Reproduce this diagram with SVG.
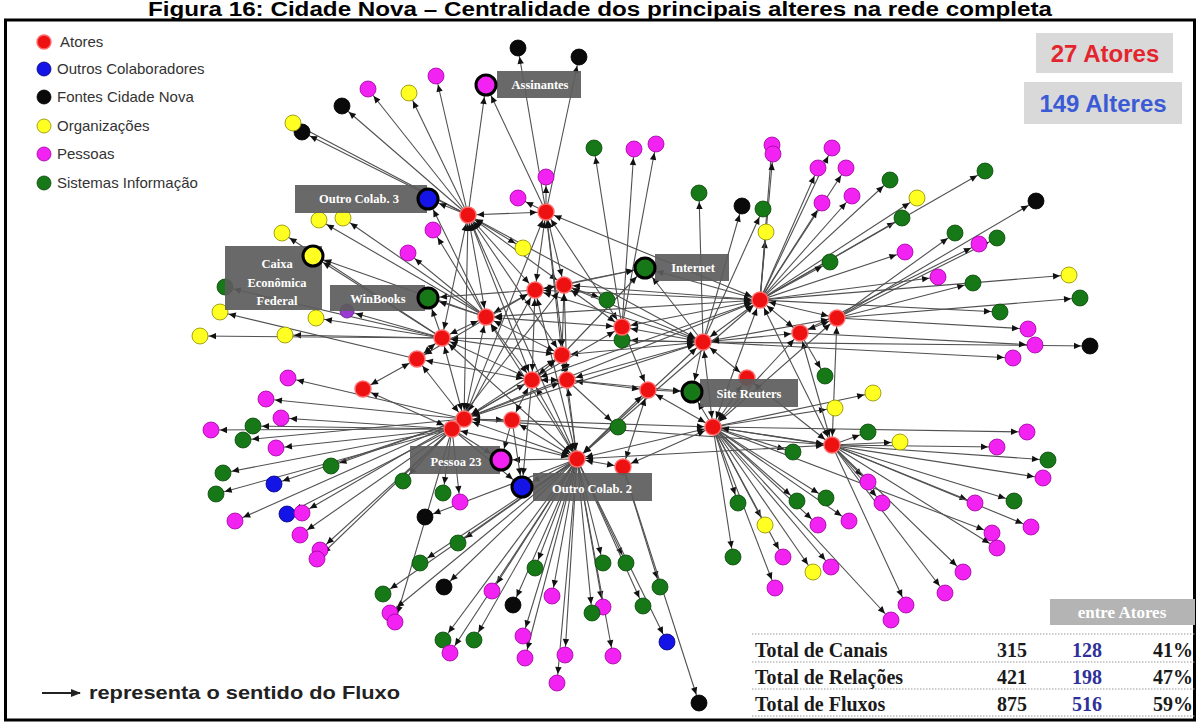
<svg xmlns="http://www.w3.org/2000/svg" width="1199" height="724" viewBox="0 0 1199 724">
<style>
.e line{stroke:#505050;stroke-width:1.1;fill:none;marker-end:url(#a)}
.e line.d{marker-start:url(#a)}
.e line.B{marker-end:url(#b)}
.R{fill:#ee1111;stroke:#ff6a6a;stroke-width:1.4}
.M{fill:#f222f2;stroke:#a000a0;stroke-width:.8}
.G{fill:#167816;stroke:#0a480a;stroke-width:.8}
.Y{fill:#ffff22;stroke:#8a8a00;stroke-width:.8}
.K{fill:#0a0a0a;stroke:#000;stroke-width:.8}
.U{fill:#1414e6;stroke:#000078;stroke-width:.8}
.P{fill:#9a3ad0;stroke:#6a1a90;stroke-width:.8}
.big{stroke:#000;stroke-width:3}
.lb{fill:#5c5c5c;fill-opacity:.92}
.lt{fill:#fff;font-family:"Liberation Serif",serif;font-weight:bold;font-size:12.5px;text-anchor:middle}
.lg{font-family:"Liberation Sans",Arial,sans-serif;font-size:15px;fill:#333}
.tb{font-family:"Liberation Serif",serif;font-weight:bold;font-size:20px;fill:#1a1a1a}
.dot{stroke:#9a9a9a;stroke-width:1.2;stroke-dasharray:1.5 1.5}
</style>
<defs>
<marker id="a" markerUnits="userSpaceOnUse" viewBox="-20 -5 20 10" refX="0" refY="0" markerWidth="20" markerHeight="10" orient="auto-start-reverse"><path d="M-9,0 L-16,-3.2 L-16,3.2 Z" fill="#111"/></marker>
<marker id="b" markerUnits="userSpaceOnUse" viewBox="-24 -5 24 10" refX="0" refY="0" markerWidth="24" markerHeight="10" orient="auto-start-reverse"><path d="M-12,0 L-19,-3.2 L-19,3.2 Z" fill="#111"/></marker>
<marker id="c" markerUnits="userSpaceOnUse" viewBox="0 -5 10 10" refX="9" refY="0" markerWidth="10" markerHeight="10" orient="auto"><path d="M0,-4 L10,0 L0,4 Z" fill="#222"/></marker>
</defs>
<rect width="1199" height="724" fill="#fff"/>
<g id="title"><text x="148" y="16" textLength="904" lengthAdjust="spacingAndGlyphs" style="font-family:'Liberation Sans',Arial,sans-serif;font-weight:bold;font-size:20px;fill:#000">Figura 16: Cidade Nova – Centralidade dos principais alteres na rede completa</text></g>
<rect id="frame" x="5.5" y="20" width="1189" height="700" fill="none" stroke="#000" stroke-width="3"/>

<g id="connectors" class="e">
<line x1="468" y1="215" x2="342" y2="106"/>
<line x1="468" y1="215" x2="302" y2="132"/>
<line x1="468" y1="215" x2="293" y2="123"/>
<line x1="468" y1="215" x2="368" y2="89"/>
<line x1="468" y1="215" x2="409" y2="93"/>
<line x1="468" y1="215" x2="436" y2="76"/>
<line x1="468" y1="215" x2="523" y2="248"/>
<line class="B" x1="468" y1="215" x2="486" y2="85"/>
<line class="B" x1="546" y1="212" x2="486" y2="85"/>
<line x1="546" y1="212" x2="518" y2="48"/>
<line x1="546" y1="212" x2="579" y2="57"/>
<line x1="546" y1="212" x2="546" y2="177"/>
<line x1="546" y1="212" x2="518" y2="198"/>
<line x1="622" y1="327" x2="594" y2="148"/>
<line x1="622" y1="327" x2="634" y2="149"/>
<line x1="622" y1="327" x2="656" y2="144"/>
<line x1="703" y1="342" x2="699" y2="193"/>
<line x1="703" y1="342" x2="742" y2="206"/>
<line x1="703" y1="342" x2="763" y2="209"/>
<line x1="703" y1="342" x2="1013" y2="358"/>
<line x1="703" y1="342" x2="1090" y2="346"/>
<line x1="703" y1="342" x2="622" y2="340"/>
<line x1="760" y1="300" x2="766" y2="232"/>
<line x1="760" y1="300" x2="772" y2="145"/>
<line x1="760" y1="300" x2="773" y2="154"/>
<line x1="760" y1="300" x2="832" y2="148"/>
<line x1="760" y1="300" x2="818" y2="168"/>
<line x1="760" y1="300" x2="846" y2="168"/>
<line x1="760" y1="300" x2="822" y2="203"/>
<line x1="760" y1="300" x2="852" y2="196"/>
<line x1="760" y1="300" x2="890" y2="180"/>
<line x1="760" y1="300" x2="917" y2="198"/>
<line x1="760" y1="300" x2="902" y2="218"/>
<line x1="760" y1="300" x2="985" y2="171"/>
<line x1="760" y1="300" x2="830" y2="262"/>
<line x1="760" y1="300" x2="905" y2="252"/>
<line x1="760" y1="300" x2="938" y2="277"/>
<line x1="760" y1="300" x2="1069" y2="275"/>
<line x1="760" y1="300" x2="1000" y2="312"/>
<line x1="837" y1="318" x2="1036" y2="201"/>
<line x1="837" y1="318" x2="955" y2="233"/>
<line x1="837" y1="318" x2="997" y2="238"/>
<line x1="837" y1="318" x2="973" y2="283"/>
<line x1="837" y1="318" x2="1080" y2="298"/>
<line x1="837" y1="318" x2="1028" y2="329"/>
<line x1="800" y1="333" x2="979" y2="244"/>
<line x1="800" y1="333" x2="1035" y2="345"/>
<line x1="800" y1="333" x2="825" y2="376"/>
<line x1="713" y1="427" x2="873" y2="393"/>
<line x1="713" y1="427" x2="835" y2="408"/>
<line x1="713" y1="427" x2="1027" y2="432"/>
<line x1="713" y1="427" x2="1043" y2="478"/>
<line x1="713" y1="427" x2="793" y2="452"/>
<line x1="713" y1="427" x2="797" y2="501"/>
<line x1="713" y1="427" x2="826" y2="498"/>
<line x1="713" y1="427" x2="992" y2="533"/>
<line x1="713" y1="427" x2="818" y2="525"/>
<line x1="713" y1="427" x2="849" y2="521"/>
<line x1="713" y1="427" x2="738" y2="503"/>
<line x1="713" y1="427" x2="765" y2="525"/>
<line x1="713" y1="427" x2="733" y2="557"/>
<line x1="713" y1="427" x2="783" y2="557"/>
<line x1="713" y1="427" x2="813" y2="572"/>
<line x1="713" y1="427" x2="831" y2="567"/>
<line x1="713" y1="427" x2="775" y2="588"/>
<line x1="713" y1="427" x2="891" y2="620"/>
<line x1="832" y1="445" x2="868" y2="432"/>
<line x1="832" y1="445" x2="900" y2="442"/>
<line x1="832" y1="445" x2="997" y2="447"/>
<line x1="832" y1="445" x2="1048" y2="460"/>
<line x1="832" y1="445" x2="868" y2="482"/>
<line x1="832" y1="445" x2="882" y2="503"/>
<line x1="832" y1="445" x2="975" y2="503"/>
<line x1="832" y1="445" x2="1014" y2="501"/>
<line x1="832" y1="445" x2="1031" y2="527"/>
<line x1="832" y1="445" x2="997" y2="548"/>
<line x1="832" y1="445" x2="963" y2="572"/>
<line x1="832" y1="445" x2="945" y2="593"/>
<line x1="832" y1="445" x2="906" y2="605"/>
<line x1="464" y1="419" x2="288" y2="378"/>
<line x1="464" y1="419" x2="266" y2="399"/>
<line x1="464" y1="419" x2="243" y2="440"/>
<line x1="464" y1="419" x2="331" y2="466"/>
<line x1="464" y1="419" x2="274" y2="484"/>
<line x1="464" y1="419" x2="235" y2="521"/>
<line x1="464" y1="419" x2="302" y2="513"/>
<line x1="464" y1="419" x2="320" y2="550"/>
<line x1="452" y1="429" x2="281" y2="418"/>
<line x1="452" y1="429" x2="253" y2="426"/>
<line x1="452" y1="429" x2="211" y2="430"/>
<line x1="452" y1="429" x2="276" y2="448"/>
<line x1="452" y1="429" x2="223" y2="473"/>
<line x1="452" y1="429" x2="216" y2="494"/>
<line x1="452" y1="429" x2="287" y2="514"/>
<line x1="452" y1="429" x2="300" y2="535"/>
<line x1="452" y1="429" x2="317" y2="559"/>
<line x1="452" y1="429" x2="403" y2="481"/>
<line x1="452" y1="429" x2="443" y2="493"/>
<line x1="452" y1="429" x2="460" y2="502"/>
<line x1="452" y1="429" x2="395" y2="622"/>
<line x1="486" y1="317" x2="319" y2="220"/>
<line x1="486" y1="317" x2="343" y2="218"/>
<line x1="486" y1="317" x2="433" y2="230"/>
<line x1="486" y1="317" x2="408" y2="253"/>
<line x1="442" y1="338" x2="282" y2="233"/>
<line x1="442" y1="338" x2="225" y2="287"/>
<line x1="442" y1="338" x2="316" y2="318"/>
<line x1="442" y1="338" x2="347" y2="311"/>
<line x1="442" y1="338" x2="285" y2="335"/>
<line x1="442" y1="338" x2="200" y2="336"/>
<line x1="417" y1="359" x2="220" y2="312"/>
<line x1="564" y1="285" x2="607" y2="300"/>
<line x1="567" y1="380" x2="618" y2="427"/>
<line x1="577" y1="459" x2="425" y2="517"/>
<line x1="577" y1="459" x2="458" y2="543"/>
<line x1="577" y1="459" x2="420" y2="563"/>
<line x1="577" y1="459" x2="383" y2="594"/>
<line x1="577" y1="459" x2="444" y2="587"/>
<line x1="577" y1="459" x2="492" y2="591"/>
<line x1="577" y1="459" x2="513" y2="605"/>
<line x1="577" y1="459" x2="390" y2="613"/>
<line x1="577" y1="459" x2="535" y2="568"/>
<line x1="577" y1="459" x2="552" y2="596"/>
<line x1="577" y1="459" x2="603" y2="563"/>
<line x1="577" y1="459" x2="626" y2="563"/>
<line x1="577" y1="459" x2="643" y2="606"/>
<line x1="577" y1="459" x2="603" y2="607"/>
<line x1="577" y1="459" x2="592" y2="613"/>
<line x1="577" y1="459" x2="667" y2="642"/>
<line x1="577" y1="459" x2="443" y2="640"/>
<line x1="577" y1="459" x2="474" y2="640"/>
<line x1="577" y1="459" x2="450" y2="653"/>
<line x1="577" y1="459" x2="523" y2="636"/>
<line x1="577" y1="459" x2="525" y2="658"/>
<line x1="577" y1="459" x2="565" y2="655"/>
<line x1="577" y1="459" x2="557" y2="683"/>
<line x1="577" y1="459" x2="613" y2="656"/>
<line x1="623" y1="467" x2="660" y2="587"/>
<line x1="623" y1="467" x2="699" y2="703"/>
<line class="B" x1="468" y1="215" x2="428" y2="199"/>
<line class="B" x1="486" y1="317" x2="428" y2="199"/>
<line class="B" x1="442" y1="338" x2="313" y2="256"/>
<line class="B" x1="486" y1="317" x2="313" y2="256"/>
<line class="B" x1="486" y1="317" x2="428" y2="298"/>
<line class="B" x1="442" y1="338" x2="428" y2="298"/>
<line class="B" x1="535" y1="290" x2="428" y2="298"/>
<line class="B" x1="535" y1="290" x2="645" y2="268"/>
<line class="B" x1="564" y1="285" x2="645" y2="268"/>
<line class="B" x1="703" y1="342" x2="645" y2="268"/>
<line class="B" x1="760" y1="300" x2="645" y2="268"/>
<line class="B" x1="562" y1="355" x2="645" y2="268"/>
<line class="B" x1="703" y1="342" x2="692" y2="392"/>
<line class="B" x1="648" y1="390" x2="692" y2="392"/>
<line class="B" x1="567" y1="380" x2="692" y2="392"/>
<line class="B" x1="713" y1="427" x2="692" y2="392"/>
<line class="B" x1="452" y1="429" x2="501" y2="460"/>
<line class="B" x1="577" y1="459" x2="501" y2="460"/>
<line class="B" x1="512" y1="420" x2="501" y2="460"/>
<line class="B" x1="577" y1="459" x2="522" y2="487"/>
<line class="B" x1="452" y1="429" x2="522" y2="487"/>
<line class="B" x1="512" y1="420" x2="522" y2="487"/>
<line class="B" x1="532" y1="380" x2="522" y2="487"/>
<line class="d" x1="468" y1="215" x2="546" y2="212"/>
<line class="d" x1="468" y1="215" x2="486" y2="317"/>
<line class="d" x1="468" y1="215" x2="535" y2="290"/>
<line class="d" x1="468" y1="215" x2="442" y2="338"/>
<line class="d" x1="468" y1="215" x2="464" y2="419"/>
<line class="d" x1="468" y1="215" x2="562" y2="355"/>
<line class="d" x1="468" y1="215" x2="532" y2="380"/>
<line class="d" x1="468" y1="215" x2="577" y2="459"/>
<line class="d" x1="468" y1="215" x2="703" y2="342"/>
<line class="d" x1="468" y1="215" x2="564" y2="285"/>
<line class="d" x1="546" y1="212" x2="535" y2="290"/>
<line class="d" x1="546" y1="212" x2="564" y2="285"/>
<line class="d" x1="546" y1="212" x2="622" y2="327"/>
<line class="d" x1="546" y1="212" x2="562" y2="355"/>
<line class="d" x1="546" y1="212" x2="760" y2="300"/>
<line class="d" x1="546" y1="212" x2="567" y2="380"/>
<line class="d" x1="546" y1="212" x2="464" y2="419"/>
<line class="d" x1="535" y1="290" x2="564" y2="285"/>
<line class="d" x1="535" y1="290" x2="486" y2="317"/>
<line class="d" x1="535" y1="290" x2="532" y2="380"/>
<line class="d" x1="535" y1="290" x2="703" y2="342"/>
<line class="d" x1="535" y1="290" x2="760" y2="300"/>
<line class="d" x1="535" y1="290" x2="464" y2="419"/>
<line class="d" x1="535" y1="290" x2="577" y2="459"/>
<line class="d" x1="564" y1="285" x2="562" y2="355"/>
<line class="d" x1="564" y1="285" x2="622" y2="327"/>
<line class="d" x1="564" y1="285" x2="703" y2="342"/>
<line class="d" x1="564" y1="285" x2="760" y2="300"/>
<line class="d" x1="564" y1="285" x2="567" y2="380"/>
<line class="d" x1="564" y1="285" x2="452" y2="429"/>
<line class="d" x1="486" y1="317" x2="442" y2="338"/>
<line class="d" x1="486" y1="317" x2="562" y2="355"/>
<line class="d" x1="486" y1="317" x2="532" y2="380"/>
<line class="d" x1="486" y1="317" x2="464" y2="419"/>
<line class="d" x1="486" y1="317" x2="760" y2="300"/>
<line class="d" x1="486" y1="317" x2="577" y2="459"/>
<line class="d" x1="486" y1="317" x2="622" y2="327"/>
<line class="d" x1="442" y1="338" x2="417" y2="359"/>
<line class="d" x1="442" y1="338" x2="464" y2="419"/>
<line class="d" x1="442" y1="338" x2="532" y2="380"/>
<line class="d" x1="442" y1="338" x2="703" y2="342"/>
<line class="d" x1="442" y1="338" x2="577" y2="459"/>
<line class="d" x1="442" y1="338" x2="562" y2="355"/>
<line class="d" x1="417" y1="359" x2="363" y2="389"/>
<line class="d" x1="417" y1="359" x2="464" y2="419"/>
<line class="d" x1="417" y1="359" x2="532" y2="380"/>
<line class="d" x1="417" y1="359" x2="535" y2="290"/>
<line class="d" x1="363" y1="389" x2="452" y2="429"/>
<line class="d" x1="562" y1="355" x2="532" y2="380"/>
<line class="d" x1="562" y1="355" x2="567" y2="380"/>
<line class="d" x1="562" y1="355" x2="703" y2="342"/>
<line class="d" x1="562" y1="355" x2="577" y2="459"/>
<line class="d" x1="562" y1="355" x2="464" y2="419"/>
<line class="d" x1="532" y1="380" x2="567" y2="380"/>
<line class="d" x1="532" y1="380" x2="512" y2="420"/>
<line class="d" x1="532" y1="380" x2="464" y2="419"/>
<line class="d" x1="532" y1="380" x2="577" y2="459"/>
<line class="d" x1="532" y1="380" x2="760" y2="300"/>
<line class="d" x1="567" y1="380" x2="577" y2="459"/>
<line class="d" x1="567" y1="380" x2="703" y2="342"/>
<line class="d" x1="567" y1="380" x2="648" y2="390"/>
<line class="d" x1="567" y1="380" x2="464" y2="419"/>
<line class="d" x1="622" y1="327" x2="703" y2="342"/>
<line class="d" x1="622" y1="327" x2="648" y2="390"/>
<line class="d" x1="622" y1="327" x2="760" y2="300"/>
<line class="d" x1="622" y1="327" x2="464" y2="419"/>
<line class="d" x1="703" y1="342" x2="760" y2="300"/>
<line class="d" x1="703" y1="342" x2="800" y2="333"/>
<line class="d" x1="703" y1="342" x2="837" y2="318"/>
<line class="d" x1="703" y1="342" x2="713" y2="427"/>
<line class="d" x1="703" y1="342" x2="577" y2="459"/>
<line class="d" x1="703" y1="342" x2="464" y2="419"/>
<line class="d" x1="703" y1="342" x2="747" y2="378"/>
<line class="d" x1="760" y1="300" x2="800" y2="333"/>
<line class="d" x1="760" y1="300" x2="837" y2="318"/>
<line class="d" x1="760" y1="300" x2="713" y2="427"/>
<line class="d" x1="760" y1="300" x2="464" y2="419"/>
<line class="d" x1="760" y1="300" x2="577" y2="459"/>
<line class="d" x1="760" y1="300" x2="832" y2="445"/>
<line class="d" x1="800" y1="333" x2="837" y2="318"/>
<line class="d" x1="800" y1="333" x2="713" y2="427"/>
<line class="d" x1="800" y1="333" x2="832" y2="445"/>
<line class="d" x1="837" y1="318" x2="832" y2="445"/>
<line class="d" x1="837" y1="318" x2="713" y2="427"/>
<line class="d" x1="648" y1="390" x2="577" y2="459"/>
<line class="d" x1="648" y1="390" x2="713" y2="427"/>
<line class="d" x1="648" y1="390" x2="623" y2="467"/>
<line class="d" x1="512" y1="420" x2="464" y2="419"/>
<line class="d" x1="512" y1="420" x2="577" y2="459"/>
<line class="d" x1="464" y1="419" x2="452" y2="429"/>
<line class="d" x1="464" y1="419" x2="577" y2="459"/>
<line class="d" x1="464" y1="419" x2="713" y2="427"/>
<line class="d" x1="464" y1="419" x2="832" y2="445"/>
<line class="d" x1="452" y1="429" x2="577" y2="459"/>
<line class="d" x1="577" y1="459" x2="623" y2="467"/>
<line class="d" x1="577" y1="459" x2="713" y2="427"/>
<line class="d" x1="577" y1="459" x2="832" y2="445"/>
<line class="d" x1="623" y1="467" x2="713" y2="427"/>
<line class="d" x1="713" y1="427" x2="832" y2="445"/>
<line class="d" x1="713" y1="427" x2="747" y2="378"/>
<line class="d" x1="747" y1="378" x2="832" y2="445"/>
</g>

<g id="alters">
<g id="p1"><circle class="K" cx="342" cy="106" r="8"/></g>
<g id="p2"><circle class="K" cx="302" cy="132" r="8"/></g>
<g id="p3"><circle class="Y" cx="293" cy="123" r="8"/></g>
<g id="p4"><circle class="M" cx="368" cy="89" r="8"/></g>
<g id="p5"><circle class="Y" cx="409" cy="93" r="8"/></g>
<g id="p6"><circle class="M" cx="436" cy="76" r="8"/></g>
<g id="p7"><circle class="K" cx="518" cy="48" r="8"/></g>
<g id="p8"><circle class="K" cx="579" cy="57" r="8"/></g>
<g id="p9"><circle class="M" cx="546" cy="177" r="8"/></g>
<g id="p10"><circle class="M" cx="518" cy="198" r="8"/></g>
<g id="p11"><circle class="Y" cx="523" cy="248" r="8"/></g>
<g id="p12"><circle class="G" cx="594" cy="148" r="8"/></g>
<g id="p13"><circle class="M" cx="634" cy="149" r="8"/></g>
<g id="p14"><circle class="M" cx="656" cy="144" r="8"/></g>
<g id="p15"><circle class="G" cx="699" cy="193" r="8"/></g>
<g id="p16"><circle class="K" cx="742" cy="206" r="8"/></g>
<g id="p17"><circle class="G" cx="763" cy="209" r="8"/></g>
<g id="p18"><circle class="Y" cx="766" cy="232" r="8"/></g>
<g id="p19"><circle class="M" cx="772" cy="145" r="8"/></g>
<g id="p20"><circle class="M" cx="773" cy="154" r="8"/></g>
<g id="p21"><circle class="M" cx="832" cy="148" r="8"/></g>
<g id="p22"><circle class="M" cx="818" cy="168" r="8"/></g>
<g id="p23"><circle class="M" cx="846" cy="168" r="8"/></g>
<g id="p24"><circle class="M" cx="822" cy="203" r="8"/></g>
<g id="p25"><circle class="M" cx="852" cy="196" r="8"/></g>
<g id="p26"><circle class="G" cx="890" cy="180" r="8"/></g>
<g id="p27"><circle class="Y" cx="917" cy="198" r="8"/></g>
<g id="p28"><circle class="G" cx="902" cy="218" r="8"/></g>
<g id="p29"><circle class="G" cx="985" cy="171" r="8"/></g>
<g id="p30"><circle class="K" cx="1036" cy="201" r="8"/></g>
<g id="p31"><circle class="G" cx="830" cy="262" r="8"/></g>
<g id="p32"><circle class="M" cx="905" cy="252" r="8"/></g>
<g id="p33"><circle class="G" cx="955" cy="233" r="8"/></g>
<g id="p35"><circle class="G" cx="997" cy="238" r="8"/></g>
<g id="p34"><circle class="M" cx="979" cy="244" r="8"/></g>
<g id="p36"><circle class="M" cx="938" cy="277" r="8"/></g>
<g id="p37"><circle class="G" cx="973" cy="283" r="8"/></g>
<g id="p38"><circle class="Y" cx="1069" cy="275" r="8"/></g>
<g id="p39"><circle class="G" cx="1080" cy="298" r="8"/></g>
<g id="p40"><circle class="G" cx="1000" cy="312" r="8"/></g>
<g id="p41"><circle class="M" cx="1028" cy="329" r="8"/></g>
<g id="p42"><circle class="M" cx="1035" cy="345" r="8"/></g>
<g id="p43"><circle class="M" cx="1013" cy="358" r="8"/></g>
<g id="p44"><circle class="K" cx="1090" cy="346" r="8"/></g>
<g id="p45"><circle class="G" cx="825" cy="376" r="8"/></g>
<g id="p46"><circle class="Y" cx="873" cy="393" r="8"/></g>
<g id="p47"><circle class="Y" cx="835" cy="408" r="8"/></g>
<g id="p48"><circle class="G" cx="868" cy="432" r="8"/></g>
<g id="p49"><circle class="Y" cx="900" cy="442" r="8"/></g>
<g id="p50"><circle class="M" cx="1027" cy="432" r="8"/></g>
<g id="p51"><circle class="M" cx="997" cy="447" r="8"/></g>
<g id="p52"><circle class="G" cx="1048" cy="460" r="8"/></g>
<g id="p53"><circle class="M" cx="1043" cy="478" r="8"/></g>
<g id="p54"><circle class="G" cx="793" cy="452" r="8"/></g>
<g id="p55"><circle class="M" cx="868" cy="482" r="8"/></g>
<g id="p56"><circle class="M" cx="882" cy="503" r="8"/></g>
<g id="p57"><circle class="G" cx="797" cy="501" r="8"/></g>
<g id="p58"><circle class="G" cx="826" cy="498" r="8"/></g>
<g id="p59"><circle class="M" cx="975" cy="503" r="8"/></g>
<g id="p60"><circle class="G" cx="1014" cy="501" r="8"/></g>
<g id="p61"><circle class="M" cx="1031" cy="527" r="8"/></g>
<g id="p62"><circle class="M" cx="992" cy="533" r="8"/></g>
<g id="p63"><circle class="M" cx="997" cy="548" r="8"/></g>
<g id="p64"><circle class="M" cx="818" cy="525" r="8"/></g>
<g id="p65"><circle class="M" cx="849" cy="521" r="8"/></g>
<g id="p66"><circle class="G" cx="738" cy="503" r="8"/></g>
<g id="p67"><circle class="Y" cx="765" cy="525" r="8"/></g>
<g id="p68"><circle class="G" cx="733" cy="557" r="8"/></g>
<g id="p69"><circle class="M" cx="783" cy="557" r="8"/></g>
<g id="p71"><circle class="M" cx="831" cy="567" r="8"/></g>
<g id="p70"><circle class="Y" cx="813" cy="572" r="8"/></g>
<g id="p72"><circle class="M" cx="775" cy="588" r="8"/></g>
<g id="p73"><circle class="M" cx="963" cy="572" r="8"/></g>
<g id="p74"><circle class="M" cx="945" cy="593" r="8"/></g>
<g id="p75"><circle class="M" cx="906" cy="605" r="8"/></g>
<g id="p76"><circle class="M" cx="891" cy="620" r="8"/></g>
<g id="p77"><circle class="M" cx="288" cy="378" r="8"/></g>
<g id="p78"><circle class="M" cx="266" cy="399" r="8"/></g>
<g id="p79"><circle class="M" cx="281" cy="418" r="8"/></g>
<g id="p81"><circle class="M" cx="211" cy="430" r="8"/></g>
<g id="p80"><circle class="G" cx="253" cy="426" r="8"/></g>
<g id="p82"><circle class="G" cx="243" cy="440" r="8"/></g>
<g id="p83"><circle class="M" cx="276" cy="448" r="8"/></g>
<g id="p84"><circle class="G" cx="331" cy="466" r="8"/></g>
<g id="p85"><circle class="G" cx="223" cy="473" r="8"/></g>
<g id="p86"><circle class="U" cx="274" cy="484" r="8"/></g>
<g id="p87"><circle class="G" cx="216" cy="494" r="8"/></g>
<g id="p88"><circle class="M" cx="235" cy="521" r="8"/></g>
<g id="p89"><circle class="U" cx="287" cy="514" r="8"/></g>
<g id="p90"><circle class="M" cx="302" cy="513" r="8"/></g>
<g id="p91"><circle class="M" cx="300" cy="535" r="8"/></g>
<g id="p92"><circle class="M" cx="320" cy="550" r="8"/></g>
<g id="p93"><circle class="M" cx="317" cy="559" r="8"/></g>
<g id="p94"><circle class="Y" cx="319" cy="220" r="8"/></g>
<g id="p95"><circle class="Y" cx="343" cy="218" r="8"/></g>
<g id="p96"><circle class="Y" cx="282" cy="233" r="8"/></g>
<g id="p97"><circle class="M" cx="433" cy="230" r="8"/></g>
<g id="p98"><circle class="M" cx="408" cy="253" r="8"/></g>
<g id="p99"><circle class="G" cx="225" cy="287" r="8"/></g>
<g id="p100"><circle class="Y" cx="220" cy="312" r="8"/></g>
<g id="p101"><circle class="Y" cx="316" cy="318" r="8"/></g>
<g id="p102"><circle class="P" cx="347" cy="311" r="7"/></g>
<g id="p103"><circle class="Y" cx="285" cy="335" r="8"/></g>
<g id="p104"><circle class="Y" cx="200" cy="336" r="8"/></g>
<g id="p105"><circle class="G" cx="607" cy="300" r="8"/></g>
<g id="p106"><circle class="G" cx="622" cy="340" r="8"/></g>
<g id="p107"><circle class="G" cx="618" cy="427" r="8"/></g>
<g id="p108"><circle class="G" cx="403" cy="481" r="8"/></g>
<g id="p109"><circle class="G" cx="443" cy="493" r="8"/></g>
<g id="p110"><circle class="M" cx="460" cy="502" r="8"/></g>
<g id="p111"><circle class="K" cx="425" cy="517" r="8"/></g>
<g id="p112"><circle class="G" cx="458" cy="543" r="8"/></g>
<g id="p113"><circle class="G" cx="420" cy="563" r="8"/></g>
<g id="p114"><circle class="G" cx="383" cy="594" r="8"/></g>
<g id="p115"><circle class="K" cx="444" cy="587" r="8"/></g>
<g id="p116"><circle class="M" cx="492" cy="591" r="8"/></g>
<g id="p117"><circle class="K" cx="513" cy="605" r="8"/></g>
<g id="p118"><circle class="M" cx="390" cy="613" r="8"/></g>
<g id="p119"><circle class="M" cx="395" cy="622" r="8"/></g>
<g id="p120"><circle class="G" cx="535" cy="568" r="8"/></g>
<g id="p121"><circle class="M" cx="552" cy="596" r="8"/></g>
<g id="p122"><circle class="G" cx="603" cy="563" r="8"/></g>
<g id="p123"><circle class="G" cx="626" cy="563" r="8"/></g>
<g id="p124"><circle class="G" cx="660" cy="587" r="8"/></g>
<g id="p126"><circle class="M" cx="603" cy="607" r="8"/></g>
<g id="p127"><circle class="G" cx="592" cy="613" r="8"/></g>
<g id="p125"><circle class="G" cx="643" cy="606" r="8"/></g>
<g id="p128"><circle class="U" cx="667" cy="642" r="8"/></g>
<g id="p129"><circle class="K" cx="699" cy="703" r="8"/></g>
<g id="p130"><circle class="G" cx="443" cy="640" r="8"/></g>
<g id="p132"><circle class="M" cx="450" cy="653" r="8"/></g>
<g id="p131"><circle class="G" cx="474" cy="640" r="8"/></g>
<g id="p133"><circle class="M" cx="523" cy="636" r="8"/></g>
<g id="p134"><circle class="M" cx="525" cy="658" r="8"/></g>
<g id="p135"><circle class="M" cx="565" cy="655" r="8"/></g>
<g id="p136"><circle class="M" cx="557" cy="683" r="8"/></g>
<g id="p137"><circle class="M" cx="613" cy="656" r="8"/></g>
</g>

<g id="actors">
<g id="r1"><circle class="R" cx="468" cy="215" r="8"/></g>
<g id="r2"><circle class="R" cx="546" cy="212" r="8"/></g>
<g id="r3"><circle class="R" cx="535" cy="290" r="8"/></g>
<g id="r4"><circle class="R" cx="564" cy="285" r="8"/></g>
<g id="r5"><circle class="R" cx="486" cy="317" r="8"/></g>
<g id="r6"><circle class="R" cx="442" cy="338" r="8"/></g>
<g id="r7"><circle class="R" cx="417" cy="359" r="8"/></g>
<g id="r8"><circle class="R" cx="363" cy="389" r="8"/></g>
<g id="r9"><circle class="R" cx="562" cy="355" r="8"/></g>
<g id="r10"><circle class="R" cx="532" cy="380" r="8"/></g>
<g id="r11"><circle class="R" cx="567" cy="380" r="8"/></g>
<g id="r12"><circle class="R" cx="622" cy="327" r="8"/></g>
<g id="r13"><circle class="R" cx="703" cy="342" r="8"/></g>
<g id="r14"><circle class="R" cx="760" cy="300" r="8"/></g>
<g id="r15"><circle class="R" cx="800" cy="333" r="8"/></g>
<g id="r16"><circle class="R" cx="837" cy="318" r="8"/></g>
<g id="r17"><circle class="R" cx="648" cy="390" r="8"/></g>
<g id="r18"><circle class="R" cx="512" cy="420" r="8"/></g>
<g id="r19"><circle class="R" cx="464" cy="419" r="8"/></g>
<g id="r20"><circle class="R" cx="452" cy="429" r="8"/></g>
<g id="r21"><circle class="R" cx="577" cy="459" r="8"/></g>
<g id="r22"><circle class="R" cx="623" cy="467" r="8"/></g>
<g id="r23"><circle class="R" cx="713" cy="427" r="8"/></g>
<g id="r24"><circle class="R" cx="832" cy="445" r="8"/></g>
<g id="r25"><circle class="R" cx="747" cy="378" r="8"/></g>
</g>

<g id="labeled">
<g id="n-assinantes"><rect class="lb" x="497" y="71" width="84" height="27"/><text class="lt" x="540" y="89">Assinantes</text><circle class="M big" cx="486" cy="85" r="10"/></g>
<g id="n-outro-colab-3"><rect class="lb" x="295" y="185" width="132" height="28"/><text class="lt" x="359" y="203">Outro Colab. 3</text><circle class="U big" cx="428" cy="199" r="10"/></g>
<g id="n-caixa"><rect class="lb" x="225" y="246" width="97" height="64"/><text class="lt" x="277" y="268">Caixa</text><text class="lt" x="277" y="287">Econômica</text><text class="lt" x="277" y="305">Federal</text><circle class="Y big" cx="313" cy="256" r="10"/></g>
<g id="n-winbooks"><rect class="lb" x="330" y="285" width="95" height="26"/><text class="lt" x="378" y="303">WinBooks</text><circle class="G big" cx="428" cy="298" r="10"/></g>
<g id="n-internet"><rect class="lb" x="655" y="254" width="74" height="27"/><text class="lt" x="693" y="272">Internet</text><circle class="G big" cx="645" cy="268" r="10"/></g>
<g id="n-site-reuters"><rect class="lb" x="700" y="379" width="98" height="28"/><text class="lt" x="749" y="398">Site Reuters</text><circle class="G big" cx="692" cy="392" r="10"/></g>
<g id="n-pessoa-23"><rect class="lb" x="410" y="446" width="90" height="28"/><text class="lt" x="456" y="466">Pessoa 23</text><circle class="M big" cx="501" cy="460" r="10"/></g>
<g id="n-outro-colab-2"><rect class="lb" x="533" y="473" width="119" height="28"/><text class="lt" x="592" y="493">Outro Colab. 2</text><circle class="U big" cx="522" cy="487" r="10"/></g>
</g>

<g id="legend">
<circle class="R" cx="44" cy="42" r="7"/><text class="lg" x="60" y="47">Atores</text>
<circle class="U" cx="44" cy="69" r="7"/><text class="lg" x="57" y="74">Outros Colaboradores</text>
<circle class="K" cx="44" cy="97" r="7"/><text class="lg" x="57" y="102">Fontes Cidade Nova</text>
<circle class="Y" cx="44" cy="126" r="7"/><text class="lg" x="57" y="131">Organizações</text>
<circle class="M" cx="44" cy="154" r="7"/><text class="lg" x="57" y="159">Pessoas</text>
<circle class="G" cx="44" cy="183" r="7"/><text class="lg" x="57" y="188">Sistemas Informação</text>
</g>

<g id="counts">
<rect x="1036" y="33" width="137" height="40" fill="#d9d9d9"/>
<text x="1105" y="62" text-anchor="middle" style="font-family:'Liberation Sans',Arial,sans-serif;font-weight:bold;font-size:24px;fill:#e3262e">27 Atores</text>
<rect x="1024" y="82" width="158" height="42" fill="#d9d9d9"/>
<text x="1103" y="112" text-anchor="middle" style="font-family:'Liberation Sans',Arial,sans-serif;font-weight:bold;font-size:24px;fill:#3b5bd6">149 Alteres</text>
</g>

<g id="table">
<rect x="1050" y="599" width="145" height="26" fill="#b4b4b4"/>
<text x="1122" y="618" text-anchor="middle" style="font-family:'Liberation Serif',serif;font-weight:bold;font-size:17px;fill:#fff">entre Atores</text>
<line class="dot" x1="752" y1="634" x2="1195" y2="634"/>
<line class="dot" x1="752" y1="662" x2="1195" y2="662"/>
<line class="dot" x1="752" y1="689" x2="1195" y2="689"/>
<line class="dot" x1="752" y1="716" x2="1195" y2="716"/>
<text class="tb" x="755" y="657">Total de Canais</text>
<text class="tb" x="755" y="684">Total de Relações</text>
<text class="tb" x="755" y="711">Total de Fluxos</text>
<text class="tb" x="1027" y="657" text-anchor="end">315</text>
<text class="tb" x="1027" y="684" text-anchor="end">421</text>
<text class="tb" x="1027" y="711" text-anchor="end">875</text>
<text class="tb" x="1102" y="657" text-anchor="end" style="fill:#30309a">128</text>
<text class="tb" x="1102" y="684" text-anchor="end" style="fill:#30309a">198</text>
<text class="tb" x="1102" y="711" text-anchor="end" style="fill:#30309a">516</text>
<text class="tb" x="1193" y="657" text-anchor="end">41%</text>
<text class="tb" x="1193" y="684" text-anchor="end">47%</text>
<text class="tb" x="1193" y="711" text-anchor="end">59%</text>
</g>

<g id="caption">
<line x1="42" y1="693" x2="80" y2="693" stroke="#222" stroke-width="2" marker-end="url(#c)"/>
<text x="89" y="699" textLength="311" lengthAdjust="spacingAndGlyphs" style="font-family:'Liberation Sans',Arial,sans-serif;font-weight:bold;font-size:19px;fill:#222">representa o sentido do Fluxo</text>
</g>
</svg>
